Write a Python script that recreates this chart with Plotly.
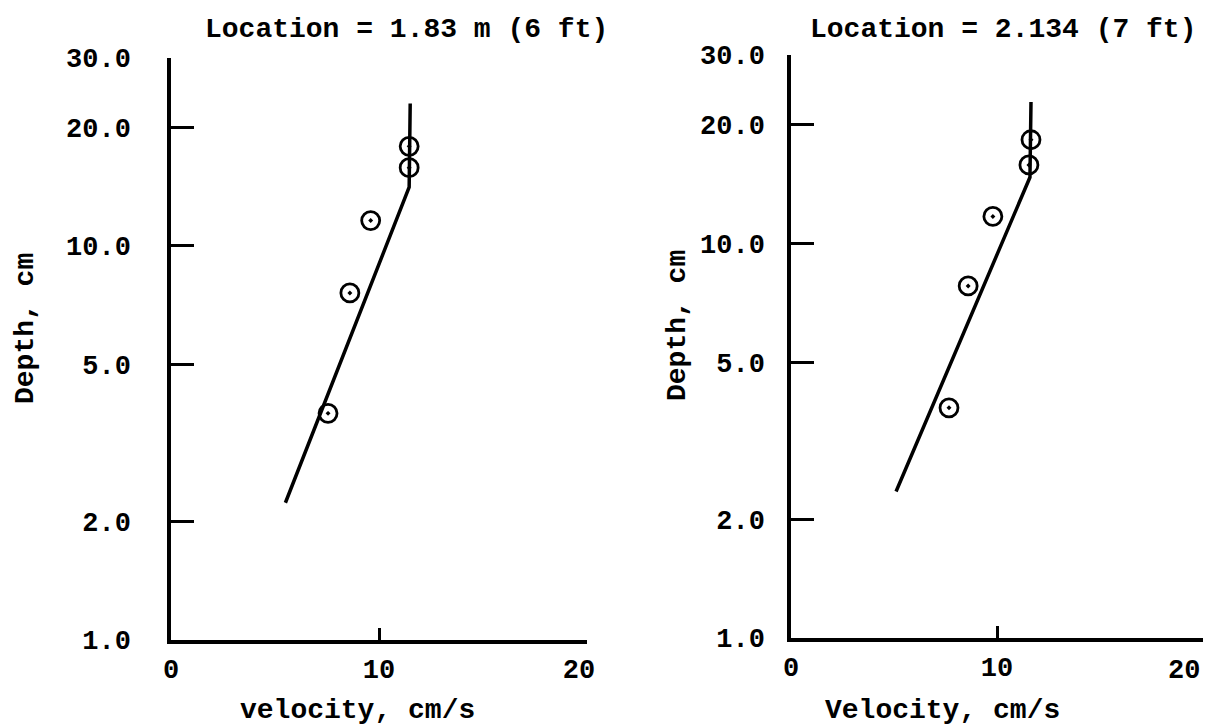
import plotly.graph_objects as go
import math

# ---- data ----
depth_tick_vals = [1.0, 2.0, 5.0, 10.0, 20.0, 30.0]
depth_tick_text = ["1.0", "2.0", "5.0", "10.0", "20.0", "30.0"]
vel_tick_vals = [0, 10, 20]
vel_tick_text = ["0", "10", "20"]

left_vel = [11.45, 11.45, 9.6, 8.6, 7.55]
left_depth = [17.9, 15.8, 11.6, 7.6, 3.76]
left_fit_vel = [5.5, 11.45, 11.5]
left_fit_depth = [2.23, 14.1, 23.0]

right_vel = [11.65, 11.55, 9.8, 8.6, 7.67]
right_depth = [18.3, 15.8, 11.7, 7.8, 3.83]
right_fit_vel = [5.1, 11.6, 11.65]
right_fit_depth = [2.35, 14.7, 22.8]

titles = ["Location = 1.83 m (6 ft)", "Location = 2.134 (7 ft)"]
x_titles = ["velocity, cm/s", "Velocity, cm/s"]
y_title = "Depth, cm"

FONT = "Liberation Mono, Courier New, monospace"
W, H = 1208, 728
NB = "\u00a0"

fig = go.Figure()

for i, (vx, dy, fx, fy) in enumerate([
    (left_vel, left_depth, left_fit_vel, left_fit_depth),
    (right_vel, right_depth, right_fit_vel, right_fit_depth),
]):
    xa = "x" if i == 0 else "x2"
    ya = "y" if i == 0 else "y2"
    fig.add_trace(go.Scatter(x=fx, y=fy, mode="lines", xaxis=xa, yaxis=ya,
                             line=dict(color="black", width=3.5), showlegend=False))
    fig.add_trace(go.Scatter(x=vx, y=dy, mode="markers", xaxis=xa, yaxis=ya,
                             marker=dict(symbol="circle-open-dot", size=18, color="black",
                                         line=dict(color="black", width=2.8)),
                             showlegend=False))

ydoms = [[(H - 640) / H, (H - 58) / H], [(H - 638) / H, (H - 55) / H]]
xdoms = [[171 / W, 587 / W], [791 / W, 1203 / W]]

# small horizontal nudge of the last x label, as in the reference
xtext_left = vel_tick_text[:-1] + [vel_tick_text[-1] + NB]
# right panel: last label is drawn as an annotation at the axis value (it sits left of its tick)
xtext_right = vel_tick_text[:-1] + [""]

tickfont = dict(family=FONT, size=27, color="black", weight="bold")
common_x = dict(range=[0, 20], tickvals=vel_tick_vals,
                ticks="inside", ticklen=12, tickwidth=3, tickcolor="black",
                showline=True, linecolor="black", linewidth=3.5, showgrid=False,
                zeroline=False, ticklabelstandoff=2, automargin=False,
                tickfont=tickfont)
common_y = dict(type="log", range=[0, math.log10(30)], tickvals=depth_tick_vals,
                ticktext=depth_tick_text, ticks="inside", ticklen=23, tickwidth=3,
                tickcolor="black", showline=True, linecolor="black", linewidth=3.5,
                showgrid=False, zeroline=False, automargin=False, tickfont=tickfont)

fig.update_layout(
    width=W, height=H,
    margin=dict(l=0, r=0, t=0, b=0),
    paper_bgcolor="white", plot_bgcolor="white",
    xaxis=dict(domain=xdoms[0], anchor="y", ticktext=xtext_left, **common_x),
    yaxis=dict(domain=ydoms[0], anchor="x", ticklabelstandoff=31, **common_y),
    xaxis2=dict(domain=xdoms[1], anchor="y2", ticktext=xtext_right, **common_x),
    yaxis2=dict(domain=ydoms[1], anchor="x2", ticklabelstandoff=17, **common_y),
)

fig.add_annotation(xref="x2", yref="paper", x=vel_tick_vals[-1], y=(H - 671) / H,
                   text=vel_tick_text[-1], showarrow=False, xanchor="right",
                   yanchor="middle", xshift=-1, font=tickfont)

ann_font = dict(family=FONT, size=28, color="black", weight="bold")
annots = [
    dict(text=titles[0], x=406 / W, y=(H - 30) / H),
    dict(text=titles[1], x=1003 / W, y=(H - 30) / H),
    dict(text=x_titles[0], x=357 / W, y=(H - 710) / H),
    dict(text=x_titles[1], x=942 / W, y=(H - 710) / H),
    dict(text=y_title, x=26 / W, y=(H - 329) / H, textangle=-90),
    dict(text=y_title, x=677 / W, y=(H - 325) / H, textangle=-90),
]
for a in annots:
    fig.add_annotation(xref="paper", yref="paper", showarrow=False,
                       xanchor="center", yanchor="middle", font=ann_font, **a)

fig.write_html("out.html")
